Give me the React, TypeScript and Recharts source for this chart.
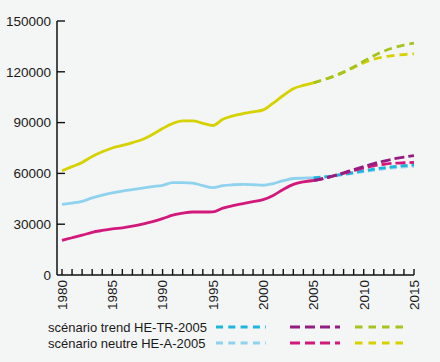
import React from 'react';
import { LineChart, Line, XAxis, YAxis } from 'recharts';

// années 1980 - 2015
const years = [
  1980, 1981, 1982, 1983, 1984, 1985, 1986, 1987, 1988, 1989,
  1990, 1991, 1992, 1993, 1994, 1995, 1996, 1997, 1998, 1999,
  2000, 2001, 2002, 2003, 2004, 2005, 2006, 2007, 2008, 2009,
  2010, 2011, 2012, 2013, 2014, 2015,
];

// valeurs observées 1980 - 2005
const yellowHist = [
  61600, 64000, 66500, 70000, 72800, 75000, 76500, 78200, 80000, 83000,
  86500, 89500, 91000, 91000, 89600, 88300, 92000, 94000, 95300, 96300,
  97500, 101500, 106000, 110000, 112000, 113500,
];
const blueHist = [
  41700, 42500, 43500, 45500, 47200, 48500, 49600, 50400, 51300, 52200,
  53000, 54500, 54600, 54300, 52800, 51600, 52800, 53300, 53500, 53300,
  53000, 54000, 55700, 57000, 57200, 57400,
];
const magentaHist = [
  20500, 22000, 23500, 25200, 26300, 27200, 27800, 28800, 30000, 31500,
  33300, 35300, 36500, 37200, 37200, 37300, 39500, 41000, 42200, 43300,
  44500, 47000, 50500, 53500, 55000, 55800,
];

// scénarios 2005 - 2015
const scenarioStart = 2005;
const yellowTrend = [113500, 115300, 117300, 119800, 122800, 126200, 129500, 132200, 134300, 135800, 137000];
const yellowNeutre = [113500, 115300, 117300, 119800, 122500, 125300, 127500, 128800, 129600, 130200, 130600];
const magentaTrend = [55800, 57000, 58600, 60400, 62200, 64000, 65800, 67300, 68600, 69600, 70500];
const magentaNeutre = [55800, 57000, 58500, 60000, 61600, 63200, 64500, 65400, 66000, 66300, 66500];
const blueTrend = [57400, 57900, 58600, 59500, 60500, 61500, 62500, 63300, 64000, 64600, 65100];
const blueNeutre = [57400, 57800, 58400, 59200, 60100, 61000, 61900, 62700, 63300, 63800, 64200];

const yTicks = [0, 30000, 60000, 90000, 120000, 150000];
const xLabels = [1980, 1985, 1990, 1995, 2000, 2005, 2010, 2015];

const legendRows = [
  { label: 'scénario trend HE-TR-2005', colors: ['#1cb5e0', '#951c80', '#a6c31e'] },
  { label: 'scénario neutre HE-A-2005', colors: ['#8fd2ee', '#d3187c', '#d6d200'] },
];

const COLORS = {
  yellow: '#d6d200',
  olive: '#a6c31e',
  lightBlue: '#8fd2ee',
  cyan: '#1cb5e0',
  magenta: '#d3187c',
  purple: '#951c80',
};

const FONT = '"Liberation Sans", Arial, Helvetica, sans-serif';

const data = years.map((year, i) => {
  const s = year - scenarioStart;
  return {
    year,
    yellowHist: i < yellowHist.length ? yellowHist[i] : null,
    blueHist: i < blueHist.length ? blueHist[i] : null,
    magentaHist: i < magentaHist.length ? magentaHist[i] : null,
    yellowTrend: s >= 0 ? yellowTrend[s] : null,
    yellowNeutre: s >= 0 ? yellowNeutre[s] : null,
    magentaTrend: s >= 0 ? magentaTrend[s] : null,
    magentaNeutre: s >= 0 ? magentaNeutre[s] : null,
    blueTrend: s >= 0 ? blueTrend[s] : null,
    blueNeutre: s >= 0 ? blueNeutre[s] : null,
  };
});

const XTick = (props: any) => {
  const { x, y, payload } = props;
  const showLabel = xLabels.includes(payload.value);
  return (
    <g transform={`translate(${x},${y})`}>
      <line x1={0} y1={0} x2={0} y2={-6} stroke="#111" strokeWidth={1.4} />
      {showLabel && (
        <text
          transform="rotate(-90)"
          x={-5}
          y={0}
          dy="0.36em"
          textAnchor="end"
          fontSize={13.5}
          fontFamily={FONT}
          fill="#1a1a1a"
        >
          {payload.value}
        </text>
      )}
    </g>
  );
};

const YTick = (props: any) => {
  const { x, y, payload } = props;
  return (
    <g transform={`translate(${x},${y})`}>
      {payload.value !== 0 && <line x1={0} y1={0} x2={8} y2={0} stroke="#111" strokeWidth={1.4} />}
      <text x={-6} y={0} dy="0.36em" textAnchor="end" fontSize={13.5} fontFamily={FONT} fill="#1a1a1a">
        {payload.value}
      </text>
    </g>
  );
};

export default function App() {
  const lineProps = {
    dot: false,
    activeDot: false,
    isAnimationActive: false,
    strokeWidth: 2.8,
    type: 'monotone' as const,
  };

  return (
    <div style={{ position: 'absolute', left: 0, top: 0, width: 440, height: 362, background: '#f4f5f5' }}>
      <LineChart width={440} height={320} data={data} margin={{ top: 21, right: 26, bottom: 0, left: 0 }}>
        <XAxis
          dataKey="year"
          type="number"
          domain={[1980, 2015]}
          ticks={years}
          interval={0}
          padding={{ left: 5, right: 0 }}
          height={45}
          tickSize={0}
          tickMargin={0}
          tickLine={false}
          axisLine={{ stroke: '#111', strokeWidth: 1.5 }}
          tick={<XTick />}
        />
        <YAxis
          domain={[0, 150000]}
          ticks={yTicks}
          interval={0}
          width={57}
          tickSize={0}
          tickMargin={0}
          tickLine={false}
          axisLine={{ stroke: '#111', strokeWidth: 1.5 }}
          tick={<YTick />}
        />
        <Line dataKey="yellowHist" stroke={COLORS.yellow} {...lineProps} />
        <Line dataKey="blueHist" stroke={COLORS.lightBlue} {...lineProps} />
        <Line dataKey="magentaHist" stroke={COLORS.magenta} {...lineProps} />
        <Line dataKey="blueNeutre" stroke={COLORS.lightBlue} strokeDasharray="7 4" {...lineProps} />
        <Line dataKey="blueTrend" stroke={COLORS.cyan} strokeDasharray="7 4" {...lineProps} />
        <Line dataKey="magentaNeutre" stroke={COLORS.magenta} strokeDasharray="10 4" {...lineProps} />
        <Line dataKey="magentaTrend" stroke={COLORS.purple} strokeDasharray="10 4" {...lineProps} />
        <Line dataKey="yellowNeutre" stroke={COLORS.yellow} strokeDasharray="8 5" {...lineProps} />
        <Line dataKey="yellowTrend" stroke={COLORS.olive} strokeDasharray="8 5" {...lineProps} />
      </LineChart>
      <svg width={440} height={362} style={{ position: 'absolute', left: 0, top: 0, pointerEvents: 'none' }}>
        {legendRows.map((row, r) => {
          const cy = 327 + r * 16;
          return (
            <g key={row.label}>
              <text x={48} y={cy} dy="0.36em" fontSize={13} fontFamily={FONT} fill="#1a1a1a">
                {row.label}
              </text>
              <line x1={216} x2={266} y1={cy} y2={cy} stroke={row.colors[0]} strokeWidth={3.2} strokeDasharray="7 5.3" />
              <line x1={290} x2={340} y1={cy} y2={cy} stroke={row.colors[1]} strokeWidth={3.2} strokeDasharray="10 5" />
              <line x1={355} x2={406} y1={cy} y2={cy} stroke={row.colors[2]} strokeWidth={3.2} strokeDasharray="7.5 6" />
            </g>
          );
        })}
      </svg>
    </div>
  );
}
